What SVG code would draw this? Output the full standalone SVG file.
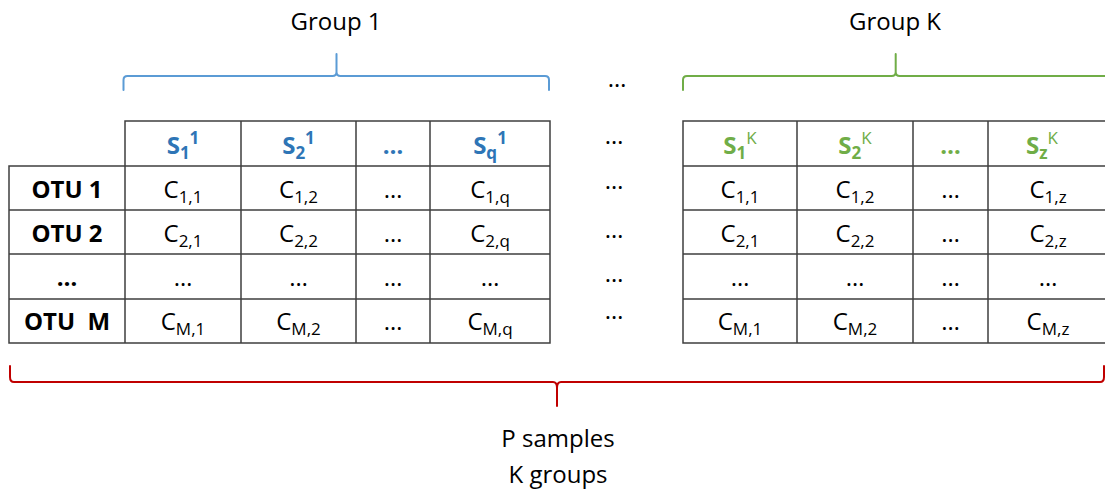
<svg xmlns="http://www.w3.org/2000/svg" width="1105" height="490" viewBox="0 0 1105 490">
<style>
.t{font-family:"Open Sans","Liberation Sans",sans-serif;font-size:24px;fill:#000;text-anchor:middle}
.b{font-weight:bold}
.s{font-size:17px}
.blue{fill:#2E75B6}
.green{fill:#70AD47}
.grid{fill:none;stroke:#3F3F3F;stroke-width:1.5}
.brace{fill:none;stroke-width:2;stroke-linejoin:round;stroke-linecap:round}
</style>
<rect width="1105" height="490" fill="#fff"/>

<g id="labels">
<text class="t" x="336" y="30">Group 1</text>
<text class="t" x="895" y="30">Group K</text>
<text class="t" x="558" y="447">P samples</text>
<text class="t" x="558" y="483">K groups</text>
</g>

<g id="connectors">
<path class="brace" stroke="#5B9BD5" d="M123.5,90 V80 Q123.5,76 127.5,76 H332.5 Q336.5,76 336.5,72 V54 V72 Q336.5,76 340.5,76 H545 Q549,76 549,80 V90"/>
<path class="brace" stroke="#70AD47" d="M683,90 V80 Q683,76 687,76 H891.7 Q895.7,76 895.7,72 V54 V72 Q895.7,76 899.7,76 H1104.4 Q1108.4,76 1108.4,80 V90"/>
<path class="brace" stroke="#C00000" d="M10,366 V377 Q10,382 14,382 H553 Q557,382 557,388 V406 V388 Q557,382 561,382 H1100 Q1104,382 1104,377 V366"/>
</g>

<g id="table1">
<path class="grid" d="M125,121 H550 V343 H9 V166 H125 Z M9,166 H550 M9,210 H550 M9,254 H550 M9,299 H550 M125,121 V343 M241,121 V343 M356,121 V343 M430,121 V343"/>
<text class="t b blue" x="183" y="154">S<tspan class="s" dy="5">1</tspan><tspan class="s" dy="-15">1</tspan></text>
<text class="t b blue" x="298.5" y="154">S<tspan class="s" dy="5">2</tspan><tspan class="s" dy="-15">1</tspan></text>
<text class="t b blue" x="393" y="154">…</text>
<text class="t b blue" x="490" y="154">S<tspan class="s" dy="5">q</tspan><tspan class="s" dy="-15">1</tspan></text>

<text class="t b" x="67" y="198">OTU 1</text>
<text class="t b" x="67" y="242">OTU 2</text>
<text class="t b" x="67" y="286">…</text>
<text class="t b" x="67" y="330" xml:space="preserve">OTU  M</text>

<text class="t" x="183" y="198">C<tspan class="s" dy="5">1,1</tspan></text>
<text class="t" x="298.5" y="198">C<tspan class="s" dy="5">1,2</tspan></text>
<text class="t" x="393" y="198">…</text>
<text class="t" x="490" y="198">C<tspan class="s" dy="5">1,q</tspan></text>

<text class="t" x="183" y="242">C<tspan class="s" dy="5">2,1</tspan></text>
<text class="t" x="298.5" y="242">C<tspan class="s" dy="5">2,2</tspan></text>
<text class="t" x="393" y="242">…</text>
<text class="t" x="490" y="242">C<tspan class="s" dy="5">2,q</tspan></text>

<text class="t" x="183" y="286">…</text>
<text class="t" x="298.5" y="286">…</text>
<text class="t" x="393" y="286">…</text>
<text class="t" x="490" y="286">…</text>

<text class="t" x="183" y="330">C<tspan class="s" dy="5">M,1</tspan></text>
<text class="t" x="298.5" y="330">C<tspan class="s" dy="5">M,2</tspan></text>
<text class="t" x="393" y="330">…</text>
<text class="t" x="490" y="330">C<tspan class="s" dy="5">M,q</tspan></text>
</g>

<g id="gap-dots">
<text class="t" x="617" y="87">…</text>
<text class="t" x="614" y="144">…</text>
<text class="t" x="614" y="189">…</text>
<text class="t" x="614" y="238">…</text>
<text class="t" x="614" y="282">…</text>
<text class="t" x="614" y="319">…</text>
</g>

<g id="tableK">
<path class="grid" d="M1108,121 H683 V343 H1108 M683,166 H1108 M683,210 H1108 M683,254 H1108 M683,299 H1108 M797,121 V343 M913,121 V343 M988,121 V343"/>
<text class="t b green" x="740" y="154">S<tspan class="s" dy="5">1</tspan><tspan class="s" dy="-15" font-weight="normal">K</tspan></text>
<text class="t b green" x="855" y="154">S<tspan class="s" dy="5">2</tspan><tspan class="s" dy="-15" font-weight="normal">K</tspan></text>
<text class="t b green" x="950.5" y="154">…</text>
<text class="t b green" x="1042" y="154">S<tspan class="s" dy="5">z</tspan><tspan class="s" dy="-15" font-weight="normal">K</tspan></text>

<text class="t" x="740" y="198">C<tspan class="s" dy="5">1,1</tspan></text>
<text class="t" x="855" y="198">C<tspan class="s" dy="5">1,2</tspan></text>
<text class="t" x="950.5" y="198">…</text>
<text class="t" x="1048" y="198">C<tspan class="s" dy="5">1,z</tspan></text>

<text class="t" x="740" y="242">C<tspan class="s" dy="5">2,1</tspan></text>
<text class="t" x="855" y="242">C<tspan class="s" dy="5">2,2</tspan></text>
<text class="t" x="950.5" y="242">…</text>
<text class="t" x="1048" y="242">C<tspan class="s" dy="5">2,z</tspan></text>

<text class="t" x="740" y="286">…</text>
<text class="t" x="855" y="286">…</text>
<text class="t" x="950.5" y="286">…</text>
<text class="t" x="1048" y="286">…</text>

<text class="t" x="740" y="330">C<tspan class="s" dy="5">M,1</tspan></text>
<text class="t" x="855" y="330">C<tspan class="s" dy="5">M,2</tspan></text>
<text class="t" x="950.5" y="330">…</text>
<text class="t" x="1048" y="330">C<tspan class="s" dy="5">M,z</tspan></text>
</g>
</svg>
